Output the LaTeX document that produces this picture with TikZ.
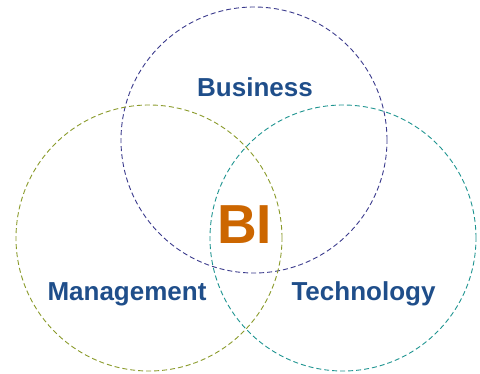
\documentclass[tikz,border=0pt]{standalone}
\usepackage{fontspec}
\setmainfont{Liberation Sans}
\definecolor{bizcol}{HTML}{3A3A8C}
\definecolor{mgtcol}{HTML}{8A9A2A}
\definecolor{techcol}{HTML}{1E9490}
\definecolor{labelcol}{HTML}{1F4E8A}
\definecolor{bicol}{HTML}{CC6600}
\tikzset{
  ring/.style={dash pattern=on 5pt off 3pt, line width=0.9pt},
  area/.style={text=labelcol, font=\bfseries\fontsize{26}{30}\selectfont, anchor=base, inner sep=0pt},
}
\begin{document}
\begin{tikzpicture}[x=1pt,y=1pt]
				\useasboundingbox (0,0) rectangle (480,373);
				% Draw circles
				\draw[ring, bizcol] (254,233) circle [radius=133];
				\draw[ring, mgtcol] (149,135) circle [radius=133];
				\draw[ring, techcol] (343,135) circle [radius=133];
				% Labels
				\node[area] (business) at (255,276) {Business};
				\node[area] (management) at (127,73) {Management};
				\node[area] (technology) at (363.5,73) {Technology};
				\node[area, text=bicol, font=\bfseries\fontsize{55}{60}\selectfont] (bi) at (244.5,130) {BI};
			\end{tikzpicture}
\end{document}
